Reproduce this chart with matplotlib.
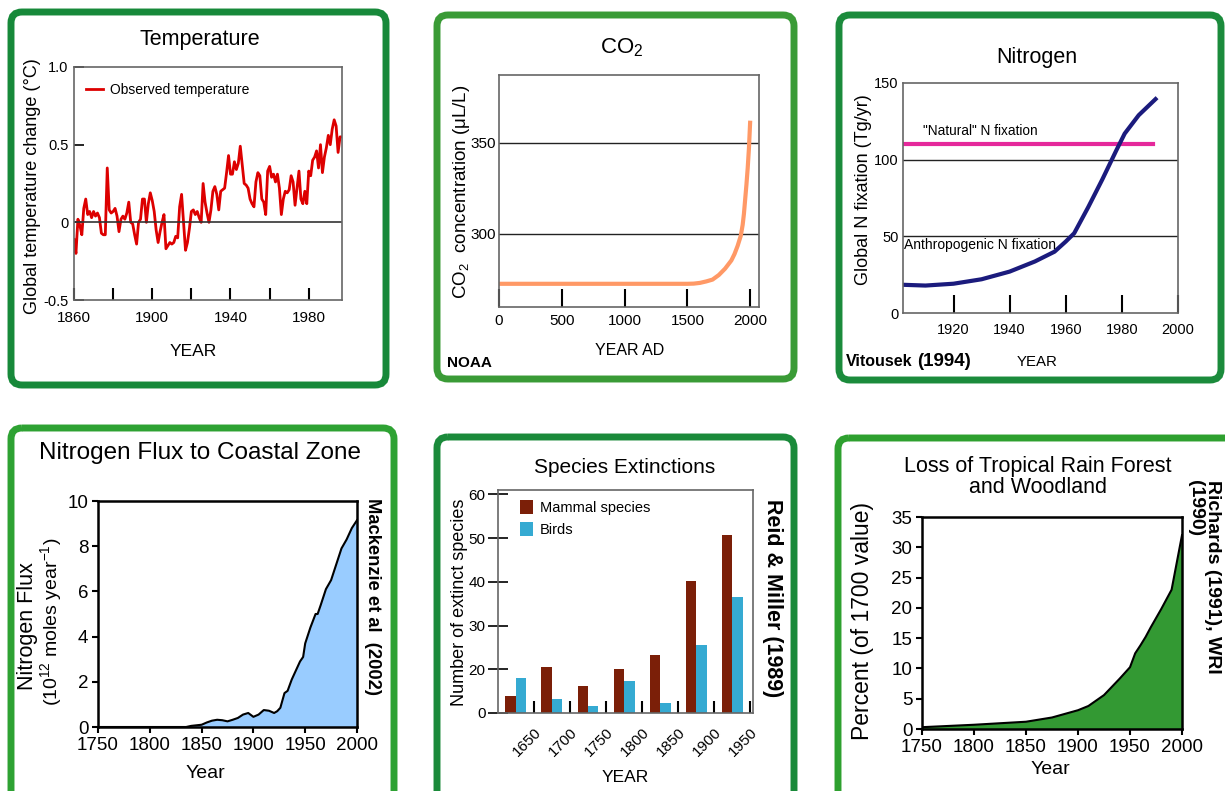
import matplotlib
matplotlib.use('Agg')
import matplotlib.pyplot as plt
from matplotlib.patches import FancyBboxPatch
from matplotlib.lines import Line2D
from matplotlib.transforms import Affine2D

# ---- data ----
temp_years = list(range(1860, 1998))
temp_vals = [
    -0.11, -0.20, 0.02, -0.02, -0.08, 0.09, 0.15, 0.05, 0.07, 0.03,   # 1860s
    0.07, 0.04, 0.06, 0.03, -0.07, -0.08, -0.08, 0.35, 0.08, 0.06,    # 1870s
    0.07, 0.09, 0.04, -0.06, 0.02, 0.04, 0.02, 0.06, 0.13, 0.00,      # 1880s
    -0.01, -0.08, -0.14, 0.00, 0.02, 0.15, 0.15, 0.00, 0.12, 0.19,    # 1890s
    0.14, 0.07, -0.05, -0.13, -0.06, 0.00, 0.05, -0.17, -0.15, -0.13, # 1900s
    -0.14, -0.13, -0.09, -0.10, 0.10, 0.18, 0.00, -0.18, -0.13, -0.04, # 1910s
    0.07, 0.08, 0.05, 0.07, 0.03, 0.00, 0.25, 0.13, 0.06, 0.00,       # 1920s
    0.08, 0.20, 0.23, 0.18, 0.08, 0.20, 0.21, 0.22, 0.32, 0.43,       # 1930s
    0.31, 0.31, 0.39, 0.34, 0.38, 0.49, 0.37, 0.25, 0.24, 0.22,       # 1940s
    0.15, 0.12, 0.10, 0.26, 0.32, 0.30, 0.15, 0.13, 0.05, 0.33,       # 1950s
    0.36, 0.29, 0.31, 0.26, 0.31, 0.22, 0.05, 0.15, 0.20, 0.19,       # 1960s
    0.21, 0.30, 0.26, 0.11, 0.22, 0.33, 0.15, 0.12, 0.20, 0.12,       # 1970s
    0.33, 0.30, 0.40, 0.42, 0.46, 0.35, 0.50, 0.32, 0.42, 0.48,       # 1980s
    0.56, 0.50, 0.60, 0.66, 0.62, 0.45, 0.55, 0.55,                   # 1990s
]

co2_years = [0, 500, 1000, 1500, 1550, 1600, 1650, 1700, 1750, 1800, 1850,
             1875, 1900, 1925, 1940, 1950, 1960, 1970, 1980, 1990, 2000]
co2_vals = [272.7, 272.7, 272.7, 272.7, 272.8, 273.2, 274.0, 275.0, 277.5, 281.0, 285.5,
            289.0, 293.5, 299.0, 305.0, 311.0, 319.0, 327.0, 336.0, 347.0, 362.0]

n_years = [1902, 1910, 1920, 1930, 1940, 1949, 1956, 1960, 1963, 1968, 1973, 1978, 1981, 1986, 1992]
n_anthro = [18.4, 17.9, 19.1, 22.0, 27.0, 33.6, 40.0, 46.6, 52.0, 69.0, 87.0, 106.0, 117.0, 129.0, 139.5]
n_natural_years = [1902, 1991]
n_natural = [110, 110]

flux_years = [1750, 1835, 1840, 1850, 1855, 1860, 1865, 1870, 1875, 1880, 1885, 1890, 1895,
              1900, 1905, 1910, 1915, 1920, 1923, 1926, 1930, 1933, 1937, 1940, 1945, 1948,
              1950, 1955, 1960, 1962, 1965, 1970, 1975, 1980, 1985, 1990, 1995, 2000]
flux_vals = [0, 0, 0.05, 0.1, 0.2, 0.28, 0.32, 0.3, 0.25, 0.32, 0.4, 0.55, 0.62,
             0.45, 0.55, 0.75, 0.72, 0.62, 0.7, 0.85, 1.5, 1.6, 2.1, 2.4, 2.9, 3.1,
             3.7, 4.4, 5.0, 5.0, 5.4, 6.1, 6.5, 7.2, 7.9, 8.3, 8.8, 9.15]

period_start = [1600, 1650, 1700, 1750, 1800, 1850, 1900]
mammals = [13.9, 20.5, 16.2, 20.1, 23.2, 40.3, 50.6]
birds = [18.0, 13.3, 11.7, 17.3, 12.3, 25.6, 36.5]

rf_years = [1750, 1800, 1850, 1875, 1900, 1910, 1925, 1940, 1950, 1955, 1960, 1965, 1970,
            1980, 1990, 1995, 2000]
rf_vals = [0.3, 0.7, 1.2, 1.9, 3.1, 3.8, 5.6, 8.3, 10.2, 12.5, 13.8, 15.2, 16.8,
           19.8, 23.0, 27.5, 32.0]

# ---- fonts ----
plt.rcParams['font.family'] = ['Liberation Sans', 'DejaVu Sans']
plt.rcParams['mathtext.fontset'] = 'custom'
plt.rcParams['mathtext.rm'] = 'Liberation Sans'
plt.rcParams['mathtext.it'] = 'Liberation Sans'
plt.rcParams['mathtext.bf'] = 'Liberation Sans:bold'

W, H = 1225, 791
fig = plt.figure(figsize=(W / 100, H / 100), dpi=100)
fig.patch.set_facecolor('white')
px = Affine2D().scale(1, -1).translate(0, H)


def box(l, t, r, b, color):
    p = FancyBboxPatch((l, t), r - l, b - t, boxstyle='round,pad=0,rounding_size=11',
                       transform=px, fill=False, edgecolor=color, linewidth=5)
    fig.add_artist(p)


def axes_px(l, t, r, b):
    return fig.add_axes([l / W, 1 - b / H, (r - l) / W, (b - t) / H])


def T(x, y, s, **kw):
    kw.setdefault('ha', 'center')
    kw.setdefault('va', 'center')
    fig.text(x / W, 1 - y / H, s, **kw)


def frame(ax, color, lw):
    for sp in ax.spines.values():
        sp.set_color(color)
        sp.set_linewidth(lw)


box(11, 12, 386, 385, '#17893a')
box(437, 15, 794, 379, '#3a9b36')
box(839, 15, 1221, 380, '#1b8b3c')
box(11, 428, 394, 810, '#2ea233')
box(437, 437, 794, 810, '#1a8a3a')
box(838, 438, 1240, 810, '#2ea02f')

# ---- Temperature ----
ax1 = axes_px(74, 67, 342, 300)
ax1.plot(temp_years, temp_vals, color='#dd0000', lw=2)
ax1.axhline(0, color='#333333', lw=1.2)
ax1.set_xlim(1860, 1997)
ax1.set_ylim(-0.5, 1.0)
ax1.set_xticks(range(1860, 1981, 20), ['1860', '', '1900', '', '1940', '', '1980'], fontsize=11)
ax1.set_yticks([-0.5, 0, 0.5, 1.0], ['-0.5', '0', '0.5', '1.0'], fontsize=10.5)
ax1.tick_params(axis='x', direction='in', length=9, width=1.5, pad=8)
ax1.tick_params(axis='y', direction='in', length=7, width=1.2, pad=4)
frame(ax1, '#666666', 1.2)
ax1.legend([Line2D([], [], color='#dd0000', lw=2)], ['Observed temperature'],
           loc='upper left', bbox_to_anchor=(0.045, 0.93), frameon=False,
           prop={'size': 10}, handlelength=1.2, handletextpad=0.5,
           borderpad=0, borderaxespad=0)
T(200, 40, 'Temperature', fontsize=15.5)
T(33, 186, 'Global temperature change (°C)', rotation=90, fontsize=13)
T(193, 352, 'YEAR', fontsize=12.5)

# ---- CO2 ----
ax2 = axes_px(499, 75, 759, 307)
ax2.axhline(300, color='#222222', lw=1)
ax2.axhline(350, color='#222222', lw=1)
ax2.plot(co2_years, co2_vals, color='#ff9966', lw=3, solid_capstyle='butt')
ax2.set_xlim(0, 2070)
ax2.set_ylim(260, 387)
ax2.set_xticks([0, 500, 1000, 1500, 2000], ['0', '500', '1000', '1500', '2000'], fontsize=11)
ax2.set_yticks([300, 350], ['300', '350'], fontsize=11)
ax2.tick_params(axis='x', direction='in', length=13, width=1.5, pad=5)
ax2.tick_params(axis='y', length=0, pad=2)
frame(ax2, '#666666', 1.2)
T(622, 48, 'CO$_2$', fontsize=16)
T(461, 192, 'CO$_2$  concentration (μL/L)', rotation=90, fontsize=13.5)
T(630, 351, 'YEAR AD', fontsize=11.5)
T(447, 363, 'NOAA', ha='left', fontsize=11, fontweight='bold')

# ---- Nitrogen ----
ax3 = axes_px(903, 83, 1178, 313)
ax3.axhline(50, color='#222222', lw=1)
ax3.axhline(100, color='#222222', lw=1)
ax3.plot(n_natural_years, n_natural, color='#e5289b', lw=3)
ax3.plot(n_years, n_anthro, color='#1b1b7d', lw=3)
ax3.set_xlim(1902, 2000)
ax3.set_ylim(0, 150)
ax3.set_xticks([1920, 1940, 1960, 1980, 2000], ['1920', '1940', '1960', '1980', '2000'],
               fontsize=10.5)
ax3.set_yticks([0, 50, 100, 150], ['0', '50', '100', '150'], fontsize=10.5)
ax3.tick_params(axis='x', direction='in', length=13, width=1.5, pad=7)
ax3.tick_params(axis='y', length=0, pad=3)
frame(ax3, '#666666', 1.2)
ax3.text(1909, 114, '"Natural" N fixation', fontsize=9.8, va='bottom')
ax3.text(1902.5, 40, 'Anthropogenic N fixation', fontsize=10, va='bottom')
T(1037, 57, 'Nitrogen', fontsize=15.5)
T(863, 190, 'Global N fixation (Tg/yr)', rotation=90, fontsize=13)
T(1037, 362, 'YEAR', fontsize=10.8)
T(846, 362, 'Vitousek', ha='left', fontsize=11.5, fontweight='bold')
T(917, 362, '(1994)', ha='left', fontsize=13.5, fontweight='bold')

# ---- Nitrogen flux ----
ax4 = axes_px(98, 501, 357, 727)
ax4.fill_between(flux_years, flux_vals, color='#99ccff')
ax4.plot(flux_years, flux_vals, color='black', lw=1.5)
ax4.set_xlim(1750, 2000)
ax4.set_ylim(0, 10)
ax4.set_xticks(range(1750, 2001, 50))
ax4.set_yticks(range(0, 11, 2))
ax4.tick_params(direction='out', length=4, width=1.5, labelsize=13.5, pad=3)
frame(ax4, 'black', 1.8)
T(200, 453, 'Nitrogen Flux to Coastal Zone', fontsize=17.5)
T(28, 626, 'Nitrogen Flux', rotation=90, fontsize=15.5)
T(51, 622, '(10$^{12}$ moles year$^{-1}$)', rotation=90, fontsize=14)
T(205, 773, 'Year', fontsize=14)
T(373, 596, 'Mackenzie et al  (2002)', rotation=-90, fontsize=13.2, fontweight='bold')

# ---- Species extinctions ----
ax5 = axes_px(498, 490, 753, 713)
mx = [s + 17.5 for s in period_start]
bx = [s + 32 for s in period_start]
ax5.bar(mx, mammals, width=14.5, color='#7b1f08', label='Mammal species')
ax5.bar(bx, birds, width=14.5, color='#35aad2', label='Birds')
ax5.set_xlim(1600, 1953.5)
ax5.set_ylim(10, 61)
ax5.set_xticks(range(1650, 1951, 50), [str(y) for y in range(1650, 1951, 50)],
               rotation=45, ha='right', va='top', rotation_mode='anchor', fontsize=11)
ax5.set_yticks([10, 20, 30, 40, 50, 60], ['0', '20', '30', '40', '50', '60'], fontsize=11)
ax5.tick_params(axis='x', direction='in', length=9, width=1.5, pad=9)
ax5.tick_params(axis='y', direction='inout', length=14, width=1.2, pad=2)
frame(ax5, '#666666', 1.2)
ax5.legend(loc='upper left', bbox_to_anchor=(0.085, 0.955), frameon=False,
           prop={'size': 10.5}, handlelength=0.9, handleheight=1.1,
           handletextpad=0.5, labelspacing=0.45, borderpad=0, borderaxespad=0)
T(625, 467, 'Species Extinctions', fontsize=15)
T(460, 602, 'Number of extinct species', rotation=90, fontsize=13)
T(625, 778, 'YEAR', fontsize=12.5)
T(773, 598, 'Reid & Miller (1989)', rotation=-90, fontsize=15.5, fontweight='bold')

# ---- Rain forest ----
ax6 = axes_px(922, 517, 1182, 729)
ax6.fill_between(rf_years, rf_vals, color='#339933')
ax6.plot(rf_years, rf_vals, color='black', lw=1.5)
ax6.set_xlim(1750, 2000)
ax6.set_ylim(0, 35)
ax6.set_xticks(range(1750, 2001, 50))
ax6.set_yticks(range(0, 36, 5))
ax6.tick_params(direction='out', length=4, width=1.5, labelsize=13.5, pad=3)
frame(ax6, 'black', 1.8)
T(1038, 477, 'Loss of Tropical Rain Forest\nand Woodland', fontsize=15.5, linespacing=0.95)
T(1050, 770, 'Year', fontsize=14)
T(863, 621, 'Percent (of 1700 value)', rotation=90, fontsize=16.5)
T(1213, 480, 'Richards (1991), WRI', rotation=-90, va='top', fontsize=14, fontweight='bold')
T(1196, 480, '(1990)', rotation=-90, va='top', fontsize=14, fontweight='bold')

fig.savefig('out.png', dpi=100, facecolor='white')
